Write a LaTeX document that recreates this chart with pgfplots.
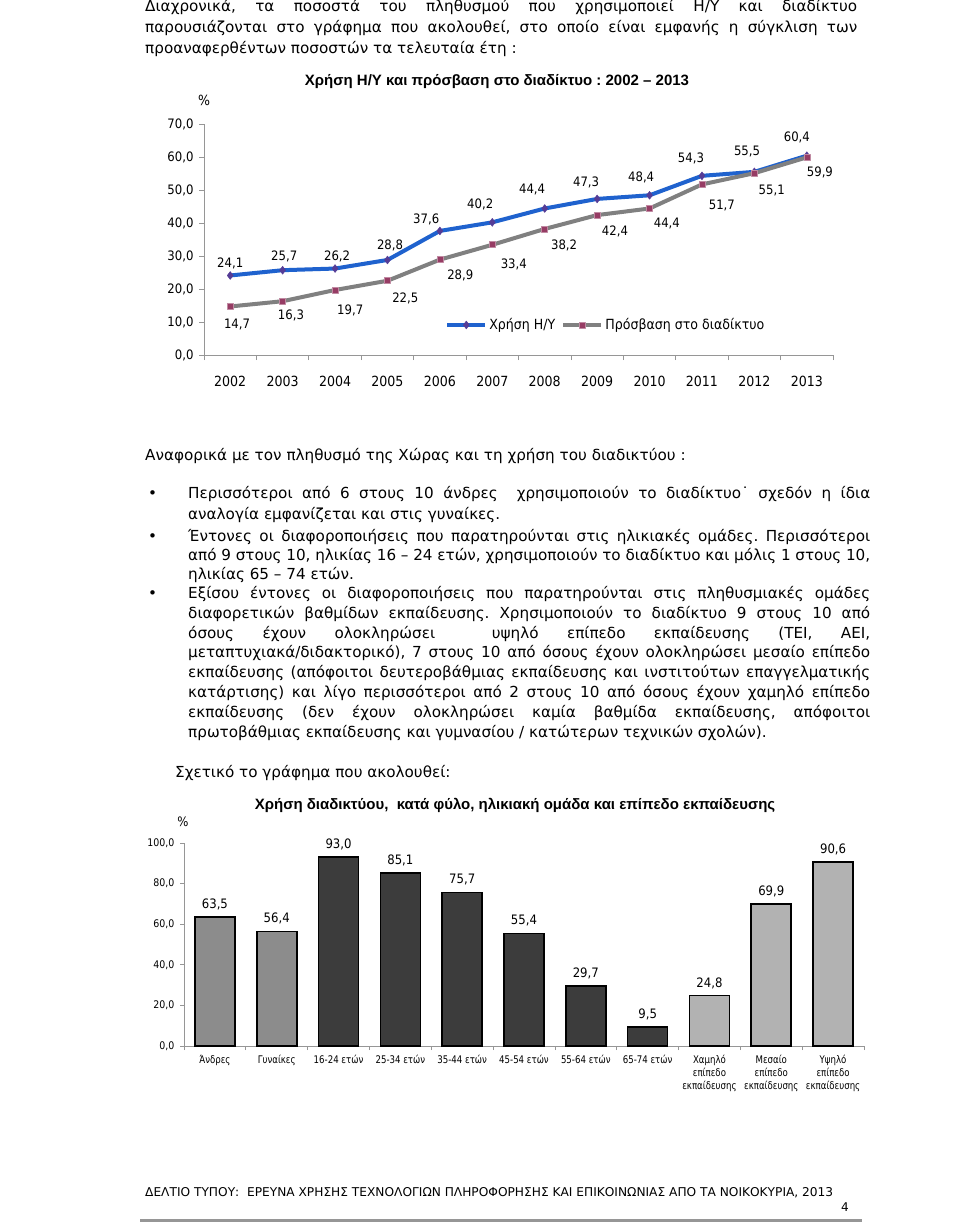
\documentclass[border=0pt]{standalone}
\usepackage{fontspec}
\usepackage{pgfplots}
\pgfplotsset{compat=1.18}
\setmainfont{DejaVu Sans}
\newfontfamily\chartfont{DejaVu Sans}[FakeStretch=0.9]
\newfontfamily\narrowfont{DejaVu Sans}[FakeStretch=0.82]
\newfontfamily\titlefont{Liberation Sans}
\definecolor{blueA}{RGB}{31,98,206}
\definecolor{mkblue}{RGB}{85,60,150}
\definecolor{grayA}{RGB}{128,128,128}
\definecolor{mkgray}{RGB}{150,60,100}
\definecolor{barA}{RGB}{140,140,140}
\definecolor{barB}{RGB}{60,60,60}
\definecolor{barC}{RGB}{178,178,178}
\definecolor{axgray}{RGB}{150,150,150}
\frenchspacing
\newcommand\bodyfont{\fontsize{15.2}{18}\selectfont}
\newcommand\jline[4]{\node[anchor=west,inner sep=0pt,text height=11pt,text depth=3pt,font=\bodyfont] at (#1pt,-#2pt) {\makebox[#3pt][s]{#4}};}
\newcommand\lline[3]{\node[anchor=west,inner sep=0pt,text height=11pt,text depth=3pt,font=\bodyfont] at (#1pt,-#2pt) {#3};}
\begin{document}
\begin{tikzpicture}
\path[fill=white] (0pt,0pt) rectangle (960pt,-1223pt);
% paragraph 1
\jline{145}{8}{712}{Διαχρονικά, τα ποσοστά του πληθυσμού που χρησιμοποιεί Η/Υ και διαδίκτυο}
\jline{145}{29}{712}{παρουσιάζονται στο γράφημα που ακολουθεί, στο οποίο είναι εμφανής η σύγκλιση των}
\lline{145}{50}{προαναφερθέντων ποσοστών τα τελευταία έτη :}
% paragraph 2
\lline{145}{456}{Αναφορικά με τον πληθυσμό της Χώρας και τη χρήση του διαδικτύου :}
\lline{148}{494}{•}
\lline{148}{537}{•}
\lline{148}{594}{•}
\jline{188}{494}{682}{Περισσότεροι από 6 στους 10 άνδρες \ χρησιμοποιούν το διαδίκτυο˙ σχεδόν η ίδια}
\lline{188}{515}{αναλογία εμφανίζεται και στις γυναίκες.}
\jline{188}{537}{682}{Έντονες οι διαφοροποιήσεις που παρατηρούνται στις ηλικιακές ομάδες. Περισσότεροι}
\jline{188}{556}{682}{από 9 στους 10, ηλικίας 16 – 24 ετών, χρησιμοποιούν το διαδίκτυο και μόλις 1 στους 10,}
\lline{188}{575}{ηλικίας 65 – 74 ετών.}
\jline{188}{594}{682}{Εξίσου έντονες οι διαφοροποιήσεις που παρατηρούνται στις πληθυσμιακές ομάδες}
\jline{188}{614}{682}{διαφορετικών βαθμίδων εκπαίδευσης. Χρησιμοποιούν το διαδίκτυο 9 στους 10 από}
\jline{188}{634}{682}{όσους έχουν ολοκληρώσει \ υψηλό επίπεδο εκπαίδευσης (ΤΕΙ, ΑΕΙ,}
\jline{188}{653}{682}{μεταπτυχιακά/διδακτορικό), 7 στους 10 από όσους έχουν ολοκληρώσει μεσαίο επίπεδο}
\jline{188}{673}{682}{εκπαίδευσης (απόφοιτοι δευτεροβάθμιας εκπαίδευσης και ινστιτούτων επαγγελματικής}
\jline{188}{693}{682}{κατάρτισης) και λίγο περισσότεροι από 2 στους 10 από όσους έχουν χαμηλό επίπεδο}
\jline{188}{713}{682}{εκπαίδευσης (δεν έχουν ολοκληρώσει καμία βαθμίδα εκπαίδευσης, απόφοιτοι}
\lline{188}{733}{πρωτοβάθμιας εκπαίδευσης και γυμνασίου / κατώτερων τεχνικών σχολών).}
\lline{175}{773}{Σχετικό το γράφημα που ακολουθεί:}
% footer
\node[anchor=west,inner sep=0pt] at (145pt,-1193pt) {\resizebox{688pt}{9pt}{ΔΕΛΤΙΟ ΤΥΠΟΥ: \ ΕΡΕΥΝΑ ΧΡΗΣΗΣ ΤΕΧΝΟΛΟΓΙΩΝ ΠΛΗΡΟΦΟΡΗΣΗΣ ΚΑΙ ΕΠΙΚΟΙΝΩΝΙΑΣ ΑΠΟ ΤΑ ΝΟΙΚΟΚΥΡΙΑ, 2013}};
\node[inner sep=0pt,font=\fontsize{12}{12}\selectfont] at (845pt,-1207pt) {4};
\draw[line width=3pt, color=axgray] (140pt,-1220pt) -- (862pt,-1220pt);
% chart 1 titles
\node[font=\titlefont\bfseries\fontsize{15}{15}\selectfont] at (497pt,-82pt) {Χρήση Η/Υ και πρόσβαση στο διαδίκτυο : 2002 – 2013};
\node[font=\chartfont\fontsize{14}{14}\selectfont] at (204pt,-100pt) {\%};
\begin{axis}[
  at={(204pt,-355pt)}, anchor=south west, scale only axis,
  width=629pt, height=231pt,
  xmin=-0.5, xmax=11.5, ymin=0, ymax=70,
  axis x line*=bottom, axis y line*=left,
  axis line style={-, draw=axgray, line width=0.8pt},
  xtick={0,...,11},
  xticklabels={2002,2003,2004,2005,2006,2007,2008,2009,2010,2011,2012,2013},
  minor xtick={-0.5,0.5,...,11.5},
  ytick={0,10,...,70},
  yticklabels={{0,0},{10,0},{20,0},{30,0},{40,0},{50,0},{60,0},{70,0}},
  tick align=outside,
  major tick length=5pt, minor tick length=5pt,
  every tick/.style={draw=axgray, line width=0.8pt},
  major x tick style={draw=none},
  x tick label style={font=\chartfont\fontsize{14}{14}\selectfont, yshift=-13pt},
  y tick label style={font=\chartfont\fontsize{13}{13}\selectfont, xshift=-2pt},
  legend style={at={(axis cs:4.1,9.1)}, anchor=west, draw=none, fill=none,
    font=\chartfont\fontsize{14}{14}\selectfont, legend columns=2,
    /tikz/every even column/.append style={column sep=4pt},
    inner sep=0pt},
  legend image code/.code={\draw[mark repeat=2,mark phase=2] plot coordinates {(0pt,0pt) (19pt,0pt) (38pt,0pt)};},
  clip=false,
]
\addplot[color=blueA, line width=4pt, line join=round, mark=diamond*, mark size=4pt,
  mark options={fill=mkblue, draw=mkblue, line width=0.4pt}]
  coordinates {(0,24.1)(1,25.7)(2,26.2)(3,28.8)(4,37.6)(5,40.2)(6,44.4)(7,47.3)(8,48.4)(9,54.3)(10,55.5)(11,60.4)};
\addlegendentry{Χρήση Η/Υ}
\addplot[color=grayA, line width=4pt, line join=round, mark=square*, mark size=3pt,
  mark options={fill=mkgray, draw=mkgray!60!white, line width=0.6pt}]
  coordinates {(0,14.7)(1,16.3)(2,19.7)(3,22.5)(4,28.9)(5,33.4)(6,38.2)(7,42.4)(8,44.4)(9,51.7)(10,55.1)(11,59.9)};
\addlegendentry{Πρόσβαση στο διαδίκτυο}
\begin{scope}[every node/.style={font=\chartfont\fontsize{13}{13}\selectfont}]
\node at (axis cs:0,27.6) {24,1};
\node at (axis cs:1.03,30.0) {25,7};
\node at (axis cs:2.04,30.0) {26,2};
\node at (axis cs:3.05,33.3) {28,8};
\node at (axis cs:3.74,41.2) {37,6};
\node at (axis cs:4.77,45.5) {40,2};
\node at (axis cs:5.76,50.0) {44,4};
\node at (axis cs:6.79,52.4) {47,3};
\node at (axis cs:7.84,53.9) {48,4};
\node at (axis cs:8.79,59.7) {54,3};
\node at (axis cs:9.86,61.8) {55,5};
\node at (axis cs:10.81,65.8) {60,4};
\node at (axis cs:0.13,9.1) {14,7};
\node at (axis cs:1.16,12.1) {16,3};
\node at (axis cs:2.29,13.6) {19,7};
\node at (axis cs:3.34,17.0) {22,5};
\node at (axis cs:4.39,24.2) {28,9};
\node at (axis cs:5.41,27.3) {33,4};
\node at (axis cs:6.37,33.3) {38,2};
\node at (axis cs:7.34,37.3) {42,4};
\node at (axis cs:8.33,39.7) {44,4};
\node at (axis cs:9.38,45.2) {51,7};
\node at (axis cs:10.33,49.7) {55,1};
\node at (axis cs:11.25,55.2) {59,9};
\end{scope}
\end{axis}
% chart 2 titles
\node[font=\titlefont\bfseries\fontsize{15}{15}\selectfont] at (515pt,-805pt) {Χρήση διαδικτύου, \ κατά φύλο, ηλικιακή ομάδα και επίπεδο εκπαίδευσης};
\node[font=\chartfont\fontsize{13}{13}\selectfont] at (183pt,-822pt) {\%};
\begin{axis}[
  at={(184pt,-1046pt)}, anchor=south west, scale only axis,
  width=680pt, height=203pt,
  xmin=-0.5, xmax=10.5, ymin=0, ymax=100,
  ybar, bar width=40pt,
  axis x line*=bottom, axis y line*=left,
  axis line style={-, draw=axgray, line width=0.8pt},
  xtick={0,...,10},
  xticklabels={Άνδρες,Γυναίκες,16-24 ετών,25-34 ετών,35-44 ετών,45-54 ετών,55-64 ετών,65-74 ετών,
    {Χαμηλό\\επίπεδο\\εκπαίδευσης},{Μεσαίο\\επίπεδο\\εκπαίδευσης},{Υψηλό\\επίπεδο\\εκπαίδευσης}},
  minor xtick={-0.5,0.5,...,10.5},
  ytick={0,20,...,100},
  yticklabels={{0,0},{20,0},{40,0},{60,0},{80,0},{100,0}},
  tick align=outside,
  major tick length=4pt, minor tick length=4pt,
  every tick/.style={draw=axgray, line width=0.8pt},
  major x tick style={draw=none},
  x tick label style={font=\narrowfont\fontsize{10.5}{13}\selectfont, align=center, yshift=-2pt},
  y tick label style={font=\chartfont\fontsize{10.5}{10.5}\selectfont, xshift=-2pt},
  nodes near coords={\pgfmathprintnumber[fixed,fixed zerofill,precision=1,use comma,assume math mode=true]{\pgfplotspointmeta}},
  every node near coord/.append style={font=\chartfont\fontsize{13}{13}\selectfont, yshift=3pt, color=black},
  clip=false,
]
\addplot[fill=barA, draw=black, line width=1.6pt, bar shift=0pt]
  coordinates {(0,63.5)(1,56.4)};
\addplot[fill=barB, draw=black, line width=1.6pt, bar shift=0pt]
  coordinates {(2,93.0)(3,85.1)(4,75.7)(5,55.4)(6,29.7)(7,9.5)};
\addplot[fill=barC, draw=black, line width=1.6pt, bar shift=0pt]
  coordinates {(8,24.8)(9,69.9)(10,90.6)};
\end{axis}
\end{tikzpicture}
\end{document}
